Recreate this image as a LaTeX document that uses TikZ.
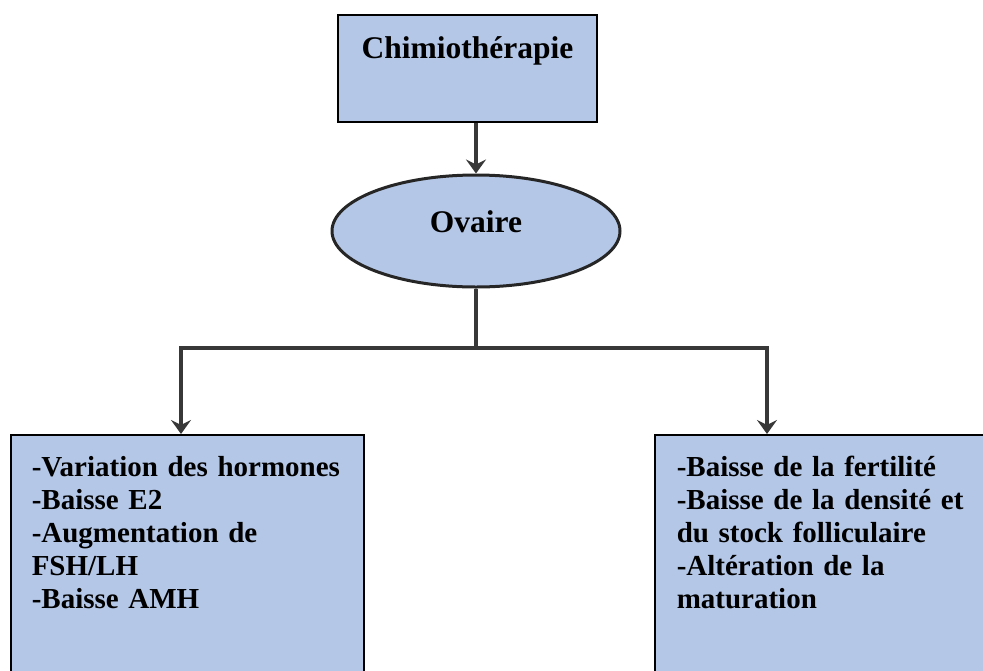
\documentclass[tikz,border=0pt]{standalone}
\usepackage{fontspec}
\setmainfont{Liberation Serif}
\usetikzlibrary{arrows.meta}
\usetikzlibrary{shapes.geometric}
\definecolor{boxblue}{rgb}{0.706,0.780,0.906}
\definecolor{arrowgray}{rgb}{0.22,0.22,0.22}

\begin{document}
\begin{tikzpicture}[x=1pt,y=-1pt,>={Stealth[length=14pt,width=20pt,inset=5pt]},
		bluebox/.style={draw=black,line width=1.5pt,fill=boxblue,rectangle,inner ysep=0pt},
		bigtext/.style={font=\bfseries\fontsize{31.5}{36}\selectfont},
		listtext/.style={font=\bfseries\fontsize{29}{33}\selectfont,align=left,anchor=north west,text height=42pt,text depth=240pt},
		link/.style={line width=3.5pt,color=arrowgray}]
			\useasboundingbox (0,0) rectangle (983,670);
			% top and middle
			\node[bluebox,bigtext,anchor=base,minimum width=259pt,text height=43pt,text depth=64pt] (chimio) at (467.5,58) {Chimiothérapie};
			\node[ellipse,draw=black!85,line width=3pt,fill=boxblue,bigtext,inner sep=0pt,minimum width=288pt,minimum height=112pt,text height=22pt,text depth=20pt,anchor=base] (ovaire) at (476,232) {Ovaire};
			% the two boxes, cut by the page border
			\node[bluebox,listtext,text width=311pt,inner xsep=21pt] (hormones) at (10,434) {-Variation des hormones\\-Baisse E2\\-Augmentation de\\FSH/LH\\-Baisse AMH};
			\node[bluebox,listtext,text width=302pt,inner xsep=22pt] (fertilite) at (654,434) {-Baisse de la fertilité\\-Baisse de la densité et\\du stock folliculaire\\-Altération de la\\maturation};
			\coordinate (split) at (ovaire.south |- 0,348);
			\draw[link,->] (chimio.south -| ovaire.north) -- (ovaire.north);
			\draw[link] (ovaire.south) -- (split);
			\draw[link,->] (split) -| ([xshift=171pt]hormones.north west);
			\draw[link,->] (split) -| ([xshift=113pt]fertilite.north west);
		\end{tikzpicture}
\end{document}
